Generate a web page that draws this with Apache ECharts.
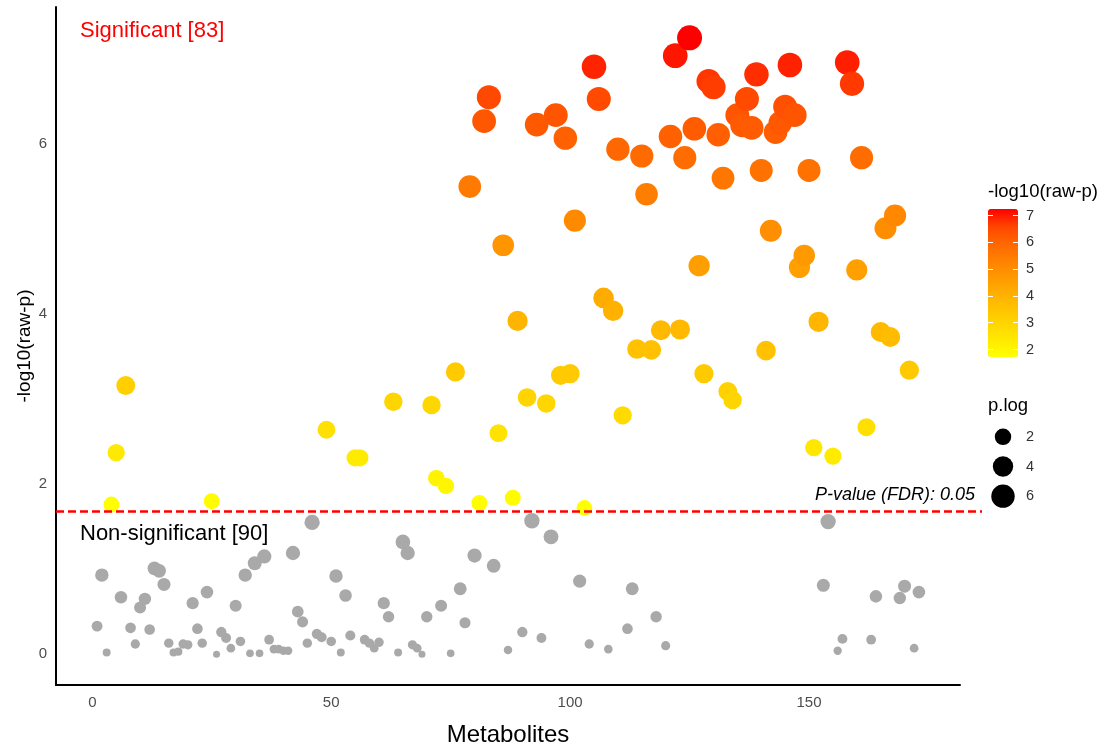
<!DOCTYPE html>
<html>
<head>
<meta charset="utf-8">
<title>Metabolite significance</title>
<script src="https://cdn.jsdelivr.net/npm/echarts@6/dist/echarts.min.js"></script>
<style>
  html, body { margin: 0; padding: 0; background: #ffffff; }
  #chart { width: 1113px; height: 750px; }
</style>
</head>
<body>
<div id="chart"></div>
<script>
// -log10(raw p) for each metabolite, in metabolite order (1..173)
const negLogP = [
  0.33, 0.93, 0.02, 1.76, 2.37, 0.67, 3.16, 0.31, 0.12, 0.55,
  0.65, 0.29, 1.01, 0.98, 0.82, 0.13, 0.02, 0.03, 0.12, 0.11,
  0.60, 0.30, 0.13, 0.73, 1.80, 0.00, 0.26, 0.19, 0.07, 0.57,
  0.15, 0.93, 0.01, 1.07, 0.01, 1.15, 0.17, 0.06, 0.06, 0.04,
  0.04, 1.19, 0.50, 0.38, 0.13, 1.55, 0.24, 0.20, 2.64, 0.15,
  0.92, 0.02, 0.69, 0.22, 2.31, 2.31, 0.17, 0.13, 0.07, 0.14,
  0.60, 0.44, 2.97, 0.02, 1.32, 1.19, 0.11, 0.07, 0.00, 0.44,
  2.93, 2.07, 0.57, 1.98, 0.01, 3.32, 0.77, 0.37, 5.50, 1.16,
  1.78, 6.27, 6.55, 1.04, 2.60, 4.81, 0.05, 1.84, 3.92, 0.26,
  3.02, 1.57, 6.23, 0.19, 2.95, 1.38, 6.34, 3.28, 6.07, 3.30,
  5.10, 0.86, 1.72, 0.12, 6.91, 6.53, 4.19, 0.06, 4.04, 5.94,
  2.81, 0.30, 0.77, 3.59, 5.86, 5.41, 3.58, 0.44, 3.81, 0.10,
  6.09, 7.04, 3.82, 5.84, 7.25, 6.18, 4.57, 3.30, 6.74, 6.67,
  6.11, 5.60, 3.09, 2.99, 6.34, 6.22, 6.53, 6.19, 6.82, 5.69,
  3.57, 4.98, 6.14, 6.25, 6.44, 6.93, 6.34, 4.55, 4.69, 5.69,
  2.43, 3.91, 0.81, 1.56, 2.33, 0.04, 0.18, 6.96, 6.71, 4.52,
  5.84, 2.67, 0.17, 0.68, 3.79, 5.01, 3.73, 5.16, 0.66, 0.80,
  3.34, 0.07, 0.73
];

// FDR cut-off expressed on the -log10(raw p) scale
const fdrCutoff = 1.68;
const fdrLabel = 'P-value (FDR): 0.05';

const xTicks = [0, 50, 100, 150];
const yTicks = [0, 2, 4, 6];
const colorTicks = [2, 3, 4, 5, 6, 7];
const sizeBreaks = [2, 4, 6];

// yellow -> red gradient (interpolated in Lab space)
const colorStops = ['#FFFF00', '#FFE800', '#FFD100', '#FFBA00', '#FFA100',
                    '#FF8700', '#FF6B00', '#FF4900', '#FF0000'];

const FONT = 'Liberation Sans, Arial, Helvetica, sans-serif';

const points = negLogP.map((v, i) => [i + 1, v]);
const sigPoints = points.filter(p => p[1] > fdrCutoff);
const nonSigPoints = points.filter(p => p[1] <= fdrCutoff);

const minV = Math.min(...negLogP);
const maxV = Math.max(...negLogP);
const sigMin = Math.min(...sigPoints.map(p => p[1]));
const sigMax = Math.max(...sigPoints.map(p => p[1]));

// area-proportional point size
const sizeFor = v => 7 + 18 * Math.sqrt((v - minV) / (maxV - minV));

// 5% padding on both axes
const xPad = (points.length - 1) * 0.05;
const xMin = 1 - xPad, xMax = points.length + xPad;
const yPad = (maxV - minV) * 0.05;
const yMin = minV - yPad, yMax = maxV + yPad;

const chart = echarts.init(document.getElementById('chart'), null, { renderer: 'canvas' });

const option = {
  backgroundColor: '#ffffff',
  animation: false,
  textStyle: { fontFamily: FONT },
  grid: [
    { left: 56, top: 7, width: 904, height: 678, outerBoundsMode: 'none' },   // main panel
    { left: 988, top: 209, width: 30, height: 148, outerBoundsMode: 'none' },  // colour bar axes
    { left: 990, top: 422, width: 26, height: 89, outerBoundsMode: 'none' },   // size key
    { left: 56, top: 7, width: 926, height: 678, outerBoundsMode: 'none' }     // cut-off line
  ],
  xAxis: [
    {
      gridIndex: 0, type: 'value', min: xMin, max: xMax,
      axisLine: { show: true, onZero: false, lineStyle: { color: '#000', width: 2 } },
      axisTick: { show: false },
      splitLine: { show: false },
      axisLabel: { customValues: xTicks, color: '#4D4D4D', fontSize: 15, margin: 10, fontFamily: FONT },
      name: 'Metabolites', nameLocation: 'middle', nameGap: 38, nameMoveOverlap: false,
      nameTextStyle: { fontSize: 24, color: '#000', fontFamily: FONT }
    },
    { gridIndex: 1, type: 'value', min: 0, max: 1, show: false },
    { gridIndex: 2, type: 'value', min: -1, max: 1, show: false },
    { gridIndex: 3, type: 'value', min: 0, max: 1, show: false }
  ],
  yAxis: [
    {
      gridIndex: 0, type: 'value', min: yMin, max: yMax,
      axisLine: { show: true, onZero: false, lineStyle: { color: '#000', width: 2 } },
      axisTick: { show: false },
      splitLine: { show: false },
      axisLabel: { customValues: yTicks, color: '#4D4D4D', fontSize: 15, margin: 9, fontFamily: FONT },
      name: '-log10(raw-p)', nameLocation: 'middle', nameGap: 22, nameMoveOverlap: false,
      nameTextStyle: { fontSize: 19, color: '#000', fontFamily: FONT }
    },
    {
      gridIndex: 1, type: 'value', min: sigMin, max: sigMax, position: 'left', z: 10,
      axisLine: { show: false },
      axisTick: { show: true, inside: true, length: 5, customValues: colorTicks, lineStyle: { color: '#fff', width: 1 } },
      axisLabel: { show: false },
      splitLine: { show: false }
    },
    {
      gridIndex: 1, type: 'value', min: sigMin, max: sigMax, position: 'right', z: 10,
      axisLine: { show: false },
      axisTick: { show: true, inside: true, length: 5, customValues: colorTicks, lineStyle: { color: '#fff', width: 1 } },
      axisLabel: { customValues: colorTicks, color: '#333', fontSize: 14.5, margin: 8, fontFamily: FONT },
      splitLine: { show: false }
    },
    {
      gridIndex: 2, type: 'category', data: sizeBreaks.map(String), inverse: true, position: 'right',
      axisLine: { show: false }, axisTick: { show: false },
      axisLabel: { color: '#333', fontSize: 14.5, margin: 10, fontFamily: FONT }
    },
    { gridIndex: 3, type: 'value', min: yMin, max: yMax, show: false }
  ],
  visualMap: {
    type: 'continuous',
    seriesIndex: 1,
    dimension: 1,
    min: sigMin,
    max: sigMax,
    inRange: { color: colorStops },
    left: 988, top: 209,
    itemWidth: 30, itemHeight: 148,
    padding: 0,
    calculable: false,
    hoverLink: false,
    text: null
  },
  series: [
    {
      name: 'Non-significant', type: 'scatter', xAxisIndex: 0, yAxisIndex: 0,
      data: nonSigPoints,
      symbolSize: d => sizeFor(d[1]),
      itemStyle: { color: '#A9A9A9', opacity: 1 },
      silent: true
    },
    {
      name: 'Significant', type: 'scatter', xAxisIndex: 0, yAxisIndex: 0,
      data: sigPoints,
      symbolSize: d => sizeFor(d[1]),
      itemStyle: { opacity: 1 },
      silent: true
    },
    {
      name: 'p.log', type: 'scatter', xAxisIndex: 2, yAxisIndex: 3,
      data: sizeBreaks.map((v, i) => [0, i]),
      symbolSize: (d, p) => sizeFor(sizeBreaks[p.dataIndex]),
      itemStyle: { color: '#000', opacity: 1 },
      silent: true
    },
    {
      name: 'cutoff', type: 'line', xAxisIndex: 3, yAxisIndex: 4,
      data: [[0.5, fdrCutoff]],
      showSymbol: false,
      lineStyle: { opacity: 0 },
      silent: true,
      markLine: {
        silent: true,
        symbol: 'none',
        lineStyle: { color: '#FF0000', type: [8, 4], width: 2.5 },
        label: {
          show: true, position: 'insideEndTop', formatter: fdrLabel,
          fontStyle: 'italic', fontSize: 18, color: '#000', fontFamily: FONT,
          distance: [7, 7]
        },
        data: [{ yAxis: fdrCutoff }]
      }
    }
  ],
  graphic: [
    {
      type: 'text', left: 80, top: 20,
      style: { text: 'Significant [' + sigPoints.length + ']', fill: '#FF0000', font: '22px ' + FONT }
    },
    {
      type: 'text', left: 80, top: 523,
      style: { text: 'Non-significant [' + nonSigPoints.length + ']', fill: '#000', font: '22px ' + FONT }
    },
    {
      type: 'text', left: 988, top: 182,
      style: { text: '-log10(raw-p)', fill: '#000', font: '18.5px ' + FONT }
    },
    {
      type: 'text', left: 988, top: 396,
      style: { text: 'p.log', fill: '#000', font: '18.5px ' + FONT }
    }
  ]
};

chart.setOption(option);
</script>
</body>
</html>
